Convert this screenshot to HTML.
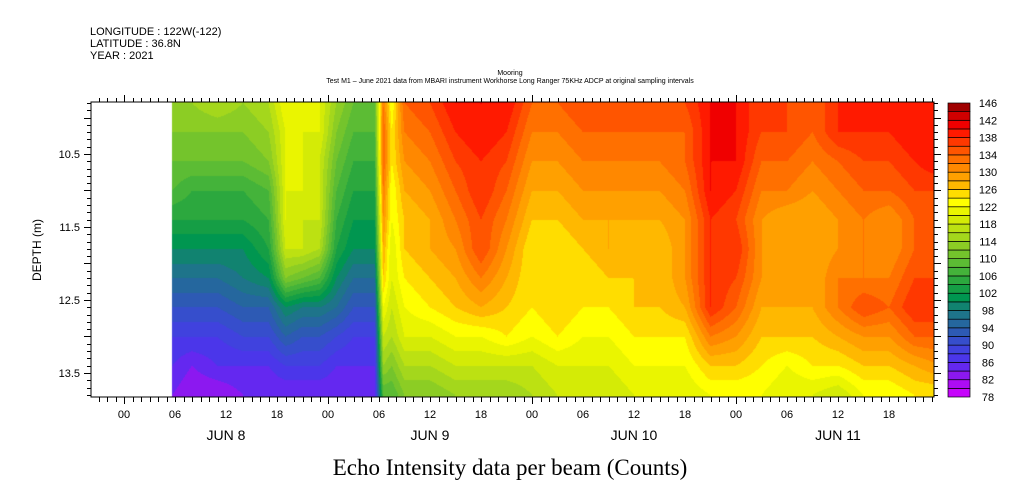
<!DOCTYPE html>
<html><head><meta charset="utf-8">
<style>
body{margin:0;background:#fff;width:1009px;height:504px;overflow:hidden;font-family:"Liberation Sans",sans-serif}
#wrap{position:relative;width:1009px;height:504px}
canvas{position:absolute;left:0;top:0}
svg{position:absolute;left:0;top:0}
</style></head><body>
<div id="wrap">
<canvas id="cv" width="1009" height="504"></canvas>
<svg id="sv" width="1009" height="504">
<text x="90" y="35" font-size="11">LONGITUDE : 122W(-122)</text>
<text x="90" y="47" font-size="11">LATITUDE : 36.8N</text>
<text x="90" y="59" font-size="11">YEAR : 2021</text>
<text x="510" y="75" font-size="7" text-anchor="middle">Mooring</text>
<text x="510" y="83" font-size="7" text-anchor="middle">Test M1 – June 2021 data from MBARI instrument Workhorse Long Ranger 75KHz ADCP at original sampling intervals</text>
<text x="510" y="475" font-size="23" text-anchor="middle" font-family="Liberation Serif,serif">Echo Intensity data per beam (Counts)</text>
<text x="41" y="250" font-size="12" text-anchor="middle" transform="rotate(-90 41 250)">DEPTH (m)</text>
</svg>
</div>
<script>
const times=[5.7,8,11,14,17,19,21,23,25,27,29.5,30.5,31.5,33,36,39,42,45,48,51,54,57,60,63,66,69,72,75,78,81,84,87,90,93,96];
const depths=[9.8,10.2,10.6,11.0,11.4,11.8,12.2,12.6,13.0,13.4,13.8];
const values=[
[114,112,110,108,104,100,96,92,88,86,84],
[114,112,110,106,104,100,96,92,88,84,82],
[116,112,110,106,104,100,96,92,88,86,82],
[114,112,110,106,104,100,98,94,90,86,84],
[116,114,112,108,106,104,100,94,90,86,84],
[122,120,120,120,120,118,112,100,94,88,84],
[120,120,120,120,118,118,110,98,92,88,84],
[120,120,118,118,118,116,108,98,92,88,84],
[114,112,110,108,106,104,100,96,90,86,84],
[110,108,106,104,102,100,96,92,88,86,84],
[110,108,106,104,102,100,96,92,88,86,84],
[132,134,134,132,130,128,126,122,118,114,108],
[122,124,124,122,122,120,120,118,116,112,108],
[134,132,130,128,126,126,124,122,120,116,112],
[136,134,132,130,128,128,126,124,120,116,112],
[140,138,136,134,132,130,128,126,122,118,114],
[140,140,138,138,136,136,132,128,122,118,114],
[140,138,136,134,132,130,128,126,124,118,114],
[134,132,130,128,126,124,124,124,122,118,116],
[134,132,130,128,126,124,124,126,124,120,118],
[136,134,132,130,128,126,124,124,122,120,118],
[134,134,132,130,128,128,126,124,122,120,118],
[136,134,132,130,128,126,126,126,124,122,120],
[134,134,132,130,128,126,126,126,124,122,120],
[136,134,134,132,130,130,130,128,124,122,120],
[140,140,140,140,138,138,138,138,132,126,122],
[140,140,140,138,136,138,136,134,130,126,122],
[136,136,134,132,130,130,130,128,126,124,122],
[136,136,134,132,128,128,128,128,126,122,120],
[134,134,132,130,128,128,128,128,126,124,120],
[138,138,134,132,130,130,132,132,128,124,118],
[138,138,136,134,132,132,132,136,130,126,122],
[138,138,136,134,130,130,132,134,130,126,122],
[138,140,138,136,134,134,136,138,134,128,124],
[138,140,140,136,134,134,136,138,134,130,124]];
const levelMin=78, levelMax=146, levelStep=2;
const cbLabels=[146,142,138,134,130,126,122,118,114,110,106,102,98,94,90,86,82,78];
const yTicks=[10.5,11.5,12.5,13.5];
const hourLabels=["00","06","12","18","00","06","12","18","00","06","12","18","00","06","12","18"];
const dayLabels=["JUN  8","JUN  9","JUN 10","JUN 11"];

const PL=91,PR=934,PT=102,PB=397;
const X0=124, PXH=204/24;
const xs=h=>X0+h*PXH;
const D0=10.5,Y0=154,PXM=73;
const ys=d=>Y0+(d-D0)*PXM;

const anchors=[[78,[210,0,255]],[82,[160,16,240]],[86,[80,48,240]],[90,[58,72,216]],[94,[40,96,168]],[98,[26,122,128]],[101,[0,150,80]],[104,[32,162,64]],[108,[80,184,56]],[112,[128,200,40]],[116,[176,220,24]],[120,[224,240,0]],[123,[255,255,0]],[125,[255,221,0]],[127,[255,184,0]],[129,[255,160,0]],[131,[255,136,0]],[133,[255,112,0]],[135,[255,85,0]],[137,[255,56,0]],[139,[255,26,0]],[141,[240,0,0]],[143,[208,0,0]],[145,[160,0,0]]];
function col(v){
  if(v<=anchors[0][0])return anchors[0][1];
  for(let i=0;i<anchors.length-1;i++){const a=anchors[i],b=anchors[i+1];
    if(v<=b[0]){const t=(v-a[0])/(b[0]-a[0]);return a[1].map((c,k)=>Math.round(c+(b[1][k]-c)*t));}}
  return anchors[anchors.length-1][1];
}
function binColor(v){let lv=Math.floor((v-levelMin)/levelStep);lv=Math.max(0,Math.min(lv,(levelMax-levelMin)/levelStep-1));return col(levelMin+lv*levelStep+1);}

const cv=document.getElementById('cv');const ctx=cv.getContext('2d');
ctx.fillStyle='#fff';ctx.fillRect(0,0,1009,504);
const img=ctx.getImageData(0,0,1009,504);
function interp(arr,v){let i=0;while(i<arr.length-2&&v>arr[i+1])i++;let t=(v-arr[i])/(arr[i+1]-arr[i]);return [i,Math.max(0,Math.min(1,t))];}
const xStart=Math.round(xs(times[0])), xEnd=Math.min(PR,Math.round(xs(times[times.length-1])));
for(let px=xStart;px<xEnd;px++){
  const h=(px+0.5-X0)/PXH;const [i,tx]=interp(times,h);
  for(let py=PT;py<PB;py++){
    const d=D0+(py+0.5-Y0)/PXM;const [j,ty]=interp(depths,d);
    const v=(values[i][j]*(1-tx)+values[i+1][j]*tx)*(1-ty)+(values[i][j+1]*(1-tx)+values[i+1][j+1]*tx)*ty;
    const c=binColor(v+0.001);const o=(py*1009+px)*4;img.data[o]=c[0];img.data[o+1]=c[1];img.data[o+2]=c[2];img.data[o+3]=255;
  }
}
ctx.putImageData(img,0,0);

const sv=document.getElementById('sv');const NS='http://www.w3.org/2000/svg';
function mk(tag,attrs,name,text){const e=document.createElementNS(NS,tag);for(const k in attrs)e.setAttribute(k,attrs[k]);


if(text!==undefined)e.textContent=text;sv.appendChild(e);return e;}
mk('rect',{x:PL,y:PT,width:PR-PL,height:PB-PT,fill:'none',stroke:'#000','stroke-width':1},'plot-frame');
const hStart=Math.ceil((PL-X0)/PXH), hEnd=Math.floor((PR-X0)/PXH);
for(let h=hStart;h<=hEnd;h++){const x=Math.round(xs(h))+0.5;const major=(h%24===0);
  mk('line',{x1:x,x2:x,y1:PB,y2:PB+(major?7:5),stroke:'#000'},'x-tick');
  mk('line',{x1:x,x2:x,y1:PT,y2:PT-(major?7:4),stroke:'#000'},'x-tick-top');
}
hourLabels.forEach((l,k)=>{const x=xs(k*6);if(x>PL&&x<PR)mk('text',{x:x,y:418,'font-size':11,'text-anchor':'middle'},'x-hour-label',l);});
dayLabels.forEach((l,k)=>{mk('text',{x:xs(k*24+12),y:440,'font-size':14,'text-anchor':'middle','xml:space':'preserve'},'x-day-label',l);});
for(let d=9.8;d<=13.85;d+=0.1){const y=Math.round(ys(d))+0.5;if(y<PT||y>PB)continue;const major=Math.abs(d*2-Math.round(d*2))<0.01;
  mk('line',{x1:PL-(major?7:4),x2:PL,y1:y,y2:y,stroke:'#000'},'y-tick');
  mk('line',{x1:PR,x2:PR+(major?7:4),y1:y,y2:y,stroke:'#000'},'y-tick-right');}
yTicks.forEach(d=>mk('text',{x:80,y:ys(d)+4,'font-size':11,'text-anchor':'end'},'y-tick-label',d.toFixed(1)));
const CBX=948,CBW=22,CBT=103,CBB=397;const nb=(levelMax-levelMin)/levelStep;const bh=(CBB-CBT)/nb;
for(let k=0;k<nb;k++){const v=levelMin+k*levelStep+1;const c=col(v);
  mk('rect',{x:CBX,y:CBB-(k+1)*bh,width:CBW,height:bh,fill:`rgb(${c[0]},${c[1]},${c[2]})`,stroke:'#000','stroke-width':0.7},'colorbar-bin');}
cbLabels.forEach(v=>mk('text',{x:988,y:CBB-(v-levelMin)/(levelMax-levelMin)*(CBB-CBT)+4,'font-size':11,'text-anchor':'middle'},'colorbar-label',String(v)));
</script>
</body></html>
